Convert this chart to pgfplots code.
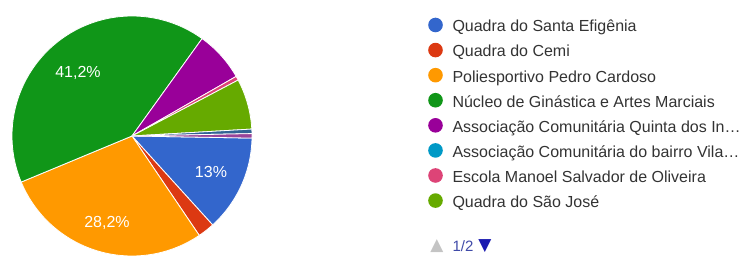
\documentclass[border=0pt]{standalone}
\usepackage{fontspec}
\setmainfont{Liberation Sans}
\newfontfamily\dejavu{DejaVu Sans}
\usepackage{pgfplots}
\pgfplotsset{compat=1.18}
\definecolor{c1}{HTML}{3366CC}
\definecolor{c2}{HTML}{DC3912}
\definecolor{c3}{HTML}{FF9900}
\definecolor{c4}{HTML}{109618}
\definecolor{c5}{HTML}{990099}
\definecolor{c6}{HTML}{0099C6}
\definecolor{c7}{HTML}{DD4477}
\definecolor{c8}{HTML}{66AA00}
\definecolor{c9}{HTML}{316395}
\definecolor{c10}{HTML}{994499}
\definecolor{textcol}{HTML}{333333}
\definecolor{pagecol}{HTML}{3F4AA8}
\definecolor{arrowcol}{HTML}{1A1AB0}
\definecolor{arrowgray}{HTML}{C4C4C4}

% pie geometry: centre (132,121), radius 120 (axis units = bp)
\def\cx{132}\def\cy{121}\def\rr{120}
\def\curang{-1}
\newcommand\slice[3]{%
  \pgfmathsetmacro\endang{\curang-3.6*#1}%
  \edef\doslice{\noexpand\addplot[fill=#2, draw=white, line width=0.8bp, domain=\endang:\curang, samples=90, variable=\noexpand\t, #3]
    ({\cx+\rr*cos(\noexpand\t)},{\cy+\rr*sin(\noexpand\t)}) -- (axis cs:\cx,\cy) -- cycle;}%
  \doslice
  \global\let\curang\endang}

\begin{document}
\begin{tikzpicture}
\begin{axis}[name=ax,
  scale only axis, width=744bp, height=257bp,
  xmin=0, xmax=744, ymin=0, ymax=257,
  hide axis, clip=false,
  legend cell align=left,
  legend image code/.code={\fill[draw=none] (0,0.5ex) circle (7.3bp);},
  legend style={at={(axis cs:428,239.5)}, anchor=north west, draw=none, fill=none,
    inner sep=0pt, font=\fontsize{16bp}{19bp}\selectfont, text=textcol,
    row sep=7.4bp, column sep=9.7bp,
    nodes={inner sep=0pt, text height=12bp, text depth=3.5bp}},
]
% percentages, clockwise from the start angle
\slice{13.0}{c1}{}\addlegendentry{Quadra do Santa Efigênia}
\slice{2.25}{c2}{}\addlegendentry{Quadra do Cemi}
\slice{28.2}{c3}{}\addlegendentry{Poliesportivo Pedro Cardoso}
\slice{41.2}{c4}{}\addlegendentry{Núcleo de Ginástica e Artes Marciais}
\slice{6.8}{c5}{}\addlegendentry{Associação Comunitária Quinta dos In…}
\addlegendimage{fill=c6, draw=none}\addlegendentry{Associação Comunitária do bairro Vila…}
\slice{0.55}{c7}{}\addlegendentry{Escola Manoel Salvador de Oliveira}
\slice{6.8}{c8}{}\addlegendentry{Quadra do São José}
\slice{0.6}{c9}{forget plot}
\slice{0.6}{c10}{forget plot}

\node[text=white, font=\fontsize{16bp}{18bp}\selectfont] at (axis cs:78,184) {41,2\%};
\node[text=white, font=\fontsize{16bp}{18bp}\selectfont] at (axis cs:211,85) {13\%};
\node[text=white, font=\fontsize{16bp}{18bp}\selectfont] at (axis cs:107,34) {28,2\%};

\node[text=arrowgray, font=\dejavu\fontsize{17bp}{18bp}\selectfont, inner sep=0pt] at (axis cs:437,11) {▲};
\node[text=pagecol, font=\fontsize{15bp}{17bp}\selectfont, inner sep=0pt] at (axis cs:463,11) {1/2};
\node[text=arrowcol, font=\dejavu\fontsize{17bp}{18bp}\selectfont, inner sep=0pt] at (axis cs:485,11) {▼};
\end{axis}
\pgfresetboundingbox
\path (ax.south west) rectangle (ax.north east);
\end{tikzpicture}
\end{document}
